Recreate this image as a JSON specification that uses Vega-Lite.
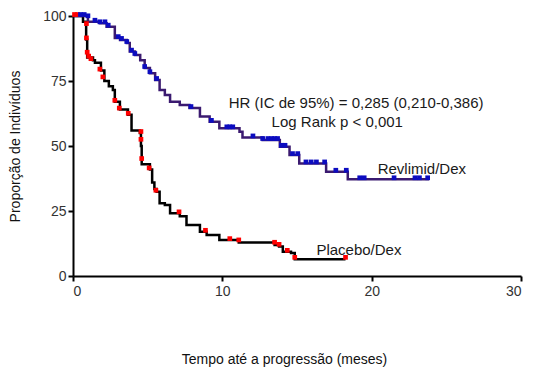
{
  "$schema": "https://vega.github.io/schema/vega-lite/v6.json",
  "width": 448,
  "height": 260,
  "autosize": {"type": "none"},
  "padding": {"left": 73, "top": 16, "right": 24, "bottom": 99},
  "background": "white",
  "config": {
    "view": {"stroke": null},
    "font": "Liberation Sans",
    "axis": {
      "grid": false,
      "domainColor": "#000",
      "domainWidth": 2,
      "tickColor": "#000",
      "tickWidth": 2,
      "tickSize": 5,
      "labelFont": "Liberation Sans",
      "labelFontSize": 14,
      "labelColor": "#333",
      "titleFont": "Liberation Sans",
      "titleFontSize": 14,
      "titleFontWeight": "normal",
      "titleColor": "#111"
    }
  },
  "datasets": {
    "curves": [
      {"series": "Placebo/Dex", "t": 0, "s": 100},
      {"series": "Placebo/Dex", "t": 0.67, "s": 97.8},
      {"series": "Placebo/Dex", "t": 0.88, "s": 91},
      {"series": "Placebo/Dex", "t": 0.95, "s": 84},
      {"series": "Placebo/Dex", "t": 1.34, "s": 83},
      {"series": "Placebo/Dex", "t": 1.47, "s": 82},
      {"series": "Placebo/Dex", "t": 1.87, "s": 79},
      {"series": "Placebo/Dex", "t": 2.1, "s": 75},
      {"series": "Placebo/Dex", "t": 2.4, "s": 73},
      {"series": "Placebo/Dex", "t": 2.67, "s": 71.5},
      {"series": "Placebo/Dex", "t": 2.8, "s": 67},
      {"series": "Placebo/Dex", "t": 3.14, "s": 64},
      {"series": "Placebo/Dex", "t": 3.68, "s": 62},
      {"series": "Placebo/Dex", "t": 3.92, "s": 56},
      {"series": "Placebo/Dex", "t": 4.48, "s": 55},
      {"series": "Placebo/Dex", "t": 4.55, "s": 50},
      {"series": "Placebo/Dex", "t": 4.6, "s": 43},
      {"series": "Placebo/Dex", "t": 5.15, "s": 41},
      {"series": "Placebo/Dex", "t": 5.3, "s": 36},
      {"series": "Placebo/Dex", "t": 5.45, "s": 33.5},
      {"series": "Placebo/Dex", "t": 5.6, "s": 32.4},
      {"series": "Placebo/Dex", "t": 5.8, "s": 28},
      {"series": "Placebo/Dex", "t": 6.15, "s": 27.3},
      {"series": "Placebo/Dex", "t": 6.5, "s": 24.1},
      {"series": "Placebo/Dex", "t": 7.15, "s": 23},
      {"series": "Placebo/Dex", "t": 7.6, "s": 19.6},
      {"series": "Placebo/Dex", "t": 8.5, "s": 17},
      {"series": "Placebo/Dex", "t": 8.95, "s": 15.8},
      {"series": "Placebo/Dex", "t": 9.8, "s": 13.8},
      {"series": "Placebo/Dex", "t": 11.1, "s": 12.9},
      {"series": "Placebo/Dex", "t": 13.5, "s": 11.9},
      {"series": "Placebo/Dex", "t": 13.8, "s": 11.3},
      {"series": "Placebo/Dex", "t": 14.05, "s": 9.3},
      {"series": "Placebo/Dex", "t": 14.6, "s": 8.8},
      {"series": "Placebo/Dex", "t": 14.85, "s": 6.4},
      {"series": "Placebo/Dex", "t": 18.25, "s": 6.4},
      {"series": "Revlimid/Dex", "t": 0, "s": 100},
      {"series": "Revlimid/Dex", "t": 1.0, "s": 97.8},
      {"series": "Revlimid/Dex", "t": 1.8, "s": 97.2},
      {"series": "Revlimid/Dex", "t": 2.25, "s": 95.9},
      {"series": "Revlimid/Dex", "t": 2.8, "s": 91.5},
      {"series": "Revlimid/Dex", "t": 3.15, "s": 90.8},
      {"series": "Revlimid/Dex", "t": 3.6, "s": 89.6},
      {"series": "Revlimid/Dex", "t": 3.8, "s": 86.3},
      {"series": "Revlimid/Dex", "t": 4.15, "s": 85},
      {"series": "Revlimid/Dex", "t": 4.5, "s": 83},
      {"series": "Revlimid/Dex", "t": 4.8, "s": 80},
      {"series": "Revlimid/Dex", "t": 5.15, "s": 78},
      {"series": "Revlimid/Dex", "t": 5.5, "s": 75.4},
      {"series": "Revlimid/Dex", "t": 5.8, "s": 71.5},
      {"series": "Revlimid/Dex", "t": 6.15, "s": 69.6},
      {"series": "Revlimid/Dex", "t": 6.5, "s": 67},
      {"series": "Revlimid/Dex", "t": 7.15, "s": 65.8},
      {"series": "Revlimid/Dex", "t": 7.8, "s": 64.6},
      {"series": "Revlimid/Dex", "t": 8.5, "s": 61.3},
      {"series": "Revlimid/Dex", "t": 9.15, "s": 59.3},
      {"series": "Revlimid/Dex", "t": 9.8, "s": 56.8},
      {"series": "Revlimid/Dex", "t": 11.15, "s": 55.5},
      {"series": "Revlimid/Dex", "t": 11.35, "s": 53.3},
      {"series": "Revlimid/Dex", "t": 12.7, "s": 52.3},
      {"series": "Revlimid/Dex", "t": 13.85, "s": 49.7},
      {"series": "Revlimid/Dex", "t": 14.5, "s": 46.5},
      {"series": "Revlimid/Dex", "t": 15.15, "s": 43.3},
      {"series": "Revlimid/Dex", "t": 16.95, "s": 40.1},
      {"series": "Revlimid/Dex", "t": 18.4, "s": 37.2},
      {"series": "Revlimid/Dex", "t": 23.85, "s": 37.2}
    ],
    "censor": [
      {"series": "Placebo/Dex", "t": 0.1, "s": 100},
      {"series": "Placebo/Dex", "t": 0.3, "s": 100},
      {"series": "Placebo/Dex", "t": 0.9, "s": 96.5},
      {"series": "Placebo/Dex", "t": 0.9, "s": 91},
      {"series": "Placebo/Dex", "t": 0.95, "s": 85.5},
      {"series": "Placebo/Dex", "t": 1.05, "s": 84},
      {"series": "Placebo/Dex", "t": 1.2, "s": 83},
      {"series": "Placebo/Dex", "t": 1.8, "s": 79},
      {"series": "Placebo/Dex", "t": 2.0, "s": 76},
      {"series": "Placebo/Dex", "t": 2.8, "s": 67},
      {"series": "Placebo/Dex", "t": 3.1, "s": 64},
      {"series": "Placebo/Dex", "t": 3.7, "s": 62},
      {"series": "Placebo/Dex", "t": 4.55, "s": 55},
      {"series": "Placebo/Dex", "t": 4.55, "s": 52},
      {"series": "Placebo/Dex", "t": 4.6, "s": 44.6},
      {"series": "Placebo/Dex", "t": 5.1, "s": 41},
      {"series": "Placebo/Dex", "t": 5.55, "s": 32.4},
      {"series": "Placebo/Dex", "t": 7.1, "s": 24.1},
      {"series": "Placebo/Dex", "t": 8.87, "s": 17},
      {"series": "Placebo/Dex", "t": 10.5, "s": 13.8},
      {"series": "Placebo/Dex", "t": 11.1, "s": 13.3},
      {"series": "Placebo/Dex", "t": 13.5, "s": 12.4},
      {"series": "Placebo/Dex", "t": 13.8, "s": 11.6},
      {"series": "Placebo/Dex", "t": 14.35, "s": 9.3},
      {"series": "Placebo/Dex", "t": 14.85, "s": 6.6},
      {"series": "Placebo/Dex", "t": 18.25, "s": 6.6},
      {"series": "Revlimid/Dex", "t": 0.5, "s": 100},
      {"series": "Revlimid/Dex", "t": 0.75, "s": 100},
      {"series": "Revlimid/Dex", "t": 1.0, "s": 99.5},
      {"series": "Revlimid/Dex", "t": 1.47, "s": 97.8},
      {"series": "Revlimid/Dex", "t": 1.8, "s": 97.2},
      {"series": "Revlimid/Dex", "t": 2.14, "s": 97.2},
      {"series": "Revlimid/Dex", "t": 2.36, "s": 95.9},
      {"series": "Revlimid/Dex", "t": 3.03, "s": 91.5},
      {"series": "Revlimid/Dex", "t": 3.25, "s": 90.8},
      {"series": "Revlimid/Dex", "t": 3.6, "s": 89.6},
      {"series": "Revlimid/Dex", "t": 3.92, "s": 86.3},
      {"series": "Revlimid/Dex", "t": 4.14, "s": 85},
      {"series": "Revlimid/Dex", "t": 4.8, "s": 80},
      {"series": "Revlimid/Dex", "t": 5.15, "s": 78},
      {"series": "Revlimid/Dex", "t": 5.6, "s": 75.4},
      {"series": "Revlimid/Dex", "t": 7.9, "s": 64.6},
      {"series": "Revlimid/Dex", "t": 9.27, "s": 59.3},
      {"series": "Revlimid/Dex", "t": 10.3, "s": 56.8},
      {"series": "Revlimid/Dex", "t": 10.5, "s": 56.8},
      {"series": "Revlimid/Dex", "t": 10.7, "s": 56.8},
      {"series": "Revlimid/Dex", "t": 12.05, "s": 53.3},
      {"series": "Revlimid/Dex", "t": 12.7, "s": 52.3},
      {"series": "Revlimid/Dex", "t": 13.05, "s": 52.3},
      {"series": "Revlimid/Dex", "t": 13.3, "s": 52.3},
      {"series": "Revlimid/Dex", "t": 13.5, "s": 52.3},
      {"series": "Revlimid/Dex", "t": 13.7, "s": 52.3},
      {"series": "Revlimid/Dex", "t": 13.95, "s": 49.7},
      {"series": "Revlimid/Dex", "t": 14.2, "s": 49.7},
      {"series": "Revlimid/Dex", "t": 14.7, "s": 46.5},
      {"series": "Revlimid/Dex", "t": 15.05, "s": 46.5},
      {"series": "Revlimid/Dex", "t": 15.6, "s": 43.3},
      {"series": "Revlimid/Dex", "t": 15.95, "s": 43.3},
      {"series": "Revlimid/Dex", "t": 16.3, "s": 43.3},
      {"series": "Revlimid/Dex", "t": 16.85, "s": 43.3},
      {"series": "Revlimid/Dex", "t": 17.6, "s": 40.1},
      {"series": "Revlimid/Dex", "t": 18.3, "s": 40.1},
      {"series": "Revlimid/Dex", "t": 19.2, "s": 37.2},
      {"series": "Revlimid/Dex", "t": 19.5, "s": 37.2},
      {"series": "Revlimid/Dex", "t": 21.5, "s": 37.2},
      {"series": "Revlimid/Dex", "t": 22.9, "s": 37.2},
      {"series": "Revlimid/Dex", "t": 23.2, "s": 37.2},
      {"series": "Revlimid/Dex", "t": 23.75, "s": 37.2}
    ],
    "labels": [
      {"text": "HR (IC de 95%) = 0,285 (0,210-0,386)", "t": 10.43, "s": 66.5},
      {"text": "Log Rank p < 0,001", "t": 13.3, "s": 59.2},
      {"text": "Revlimid/Dex", "t": 20.4, "s": 41.2},
      {"text": "Placebo/Dex", "t": 16.3, "s": 10}
    ]
  },
  "layer": [
    {
      "data": {"name": "curves"},
      "mark": {"type": "line", "interpolate": "step-after", "strokeWidth": 2.5},
      "encoding": {
        "x": {
          "field": "t", "type": "quantitative",
          "scale": {"domain": [0, 30], "nice": false},
          "axis": {"values": [0, 10, 20, 30], "title": "Tempo até a progressão (meses)", "titlePadding": 54, "labelPadding": 3, "titleX": 211, "titleAnchor": "middle"}
        },
        "y": {
          "field": "s", "type": "quantitative",
          "scale": {"domain": [0, 100], "nice": false},
          "axis": {"values": [0, 25, 50, 75, 100], "title": "Proporção de Indivíduos", "titlePadding": 20, "labelPadding": 2}
        },
        "color": {
          "field": "series", "type": "nominal",
          "scale": {"domain": ["Placebo/Dex", "Revlimid/Dex"], "range": ["#000000", "#3b1a70"]},
          "legend": null
        },
        "order": {"field": "t", "type": "quantitative"}
      }
    },
    {
      "data": {"name": "censor"},
      "mark": {"type": "point", "shape": "square", "filled": true, "size": 22, "opacity": 1, "yOffset": -1.5},
      "encoding": {
        "x": {"field": "t", "type": "quantitative"},
        "y": {"field": "s", "type": "quantitative"},
        "color": {
          "field": "series", "type": "nominal",
          "scale": {"domain": ["Placebo/Dex", "Revlimid/Dex"], "range": ["#ff0000", "#0c0cc0"]},
          "legend": null
        }
      }
    },
    {
      "data": {"name": "labels"},
      "mark": {"type": "text", "align": "left", "baseline": "middle", "font": "Liberation Sans", "fontSize": 15, "color": "#1a1a1a"},
      "encoding": {
        "x": {"field": "t", "type": "quantitative"},
        "y": {"field": "s", "type": "quantitative"},
        "text": {"field": "text"}
      }
    }
  ],
  "resolve": {"scale": {"color": "independent"}}
}
